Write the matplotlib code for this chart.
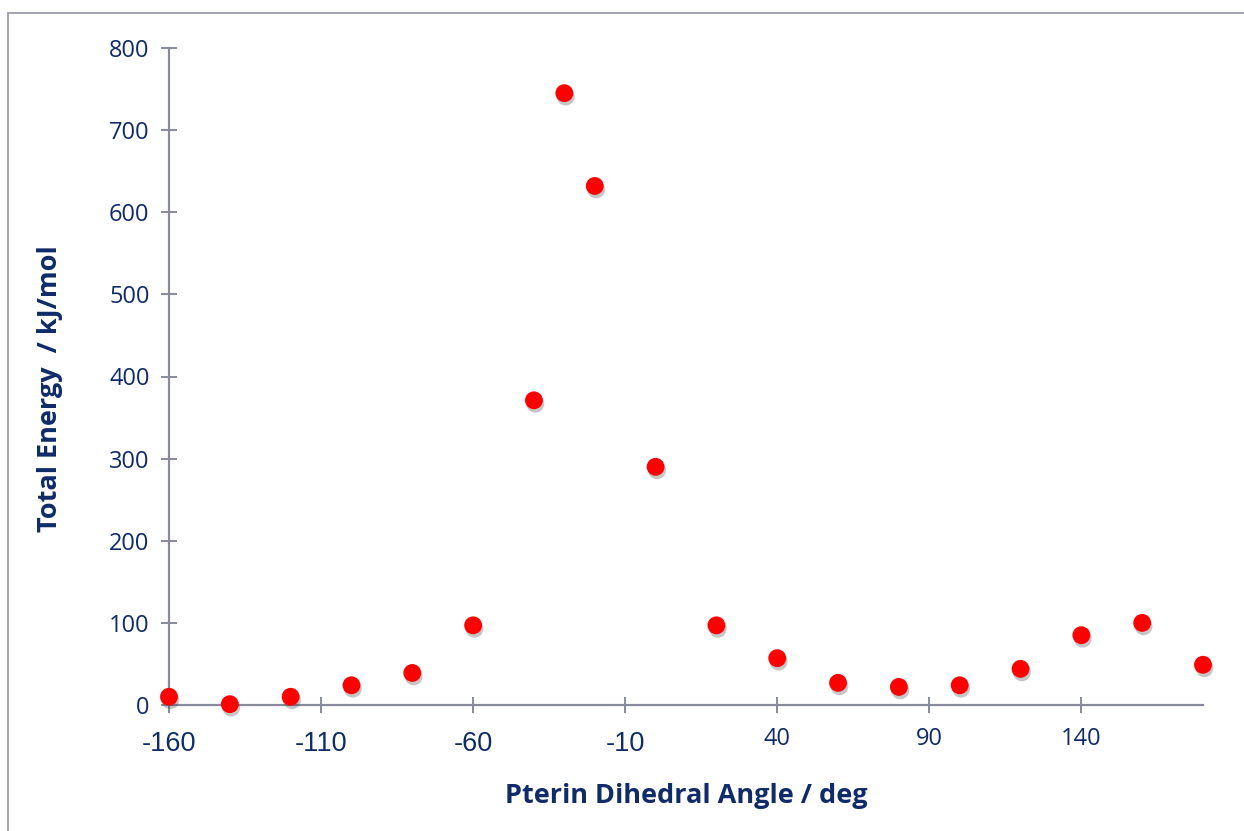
import matplotlib
matplotlib.use("Agg")
import matplotlib.pyplot as plt
import matplotlib.patheffects as pe
import matplotlib.transforms as mtransforms
from matplotlib.patches import Rectangle

# Dihedral scan: angle (deg) vs total energy (kJ/mol)
angle = [-160, -140, -120, -100, -80, -60, -40, -30, -20, 0,
         20, 40, 60, 80, 100, 120, 140, 160, 180]
energy = [10, 1, 10, 24, 39, 97, 371, 745, 632, 290,
          97, 57, 27, 22, 24, 44, 85, 100, 49]

x_ticks = [-160, -110, -60, -10, 40, 90, 140]
y_ticks = [0, 100, 200, 300, 400, 500, 600, 700, 800]

navy = "#0f2b68"
axis_grey = "#868a9c"

W, H = 1244, 831
fig = plt.figure(figsize=(W / 100, H / 100), dpi=100)

# outer chart frame
fig.patches.append(Rectangle((8 / W, -0.05), 1.2, 1 - 13 / H + 0.05,
                             transform=fig.transFigure, fill=False,
                             edgecolor="#9a9cab", linewidth=1.3))

ax = fig.add_axes([169 / W, 1 - 705 / H, (1203 - 169) / W, (705 - 48) / H])
ax.set_xlim(-160, 180)
ax.set_ylim(0, 800)
ax.set_facecolor("none")

for side in ("top", "right"):
    ax.spines[side].set_visible(False)
for side in ("left", "bottom"):
    ax.spines[side].set_color(axis_grey)
    ax.spines[side].set_linewidth(1.6)

ax.set_xticks(x_ticks)
ax.set_yticks(y_ticks)
ax.tick_params(axis="both", direction="inout", length=12, width=1.4,
               color=axis_grey, labelcolor=navy)
ax.tick_params(axis="x", pad=10)
ax.tick_params(axis="y", pad=8)

ax.set_xticklabels([str(v) for v in x_ticks])
neg_shift = mtransforms.ScaledTranslation(0, -4 / 100, fig.dpi_scale_trans)
for lab, v in zip(ax.get_xticklabels(), x_ticks):
    if v < 0:
        lab.set_fontfamily("Liberation Sans")
        lab.set_fontsize(19.5)
        lab.set_transform(lab.get_transform() + neg_shift)
    else:
        lab.set_fontfamily("Open Sans")
        lab.set_fontsize(17)
ax.set_yticklabels([str(v) for v in y_ticks], fontfamily="Open Sans", fontsize=17)

sc = ax.scatter(angle, energy, s=165, color="#ff0000", edgecolors="none",
                zorder=5, clip_on=False)
sc.set_path_effects([
    pe.SimplePatchShadow(offset=(1, -2.5), shadow_rgbFace="#444444", alpha=0.3),
    pe.Normal(),
])

ax.set_xlabel("Pterin Dihedral Angle / deg", fontfamily="Open Sans",
              fontweight="bold", fontsize=19.5, color=navy)
ax.xaxis.set_label_coords((686 - 169) / (1203 - 169), -(796 - 705) / (705 - 48))
ax.set_ylabel("Total Energy  / kJ/mol", fontfamily="Open Sans",
              fontweight="bold", fontsize=19.5, color=navy)
ax.yaxis.set_label_coords(-(169 - 50) / (1203 - 169), (705 - 389) / (705 - 48))
ax.xaxis.label.set_va("center")
ax.yaxis.label.set_va("center")

fig.savefig("out.png", dpi=100)
